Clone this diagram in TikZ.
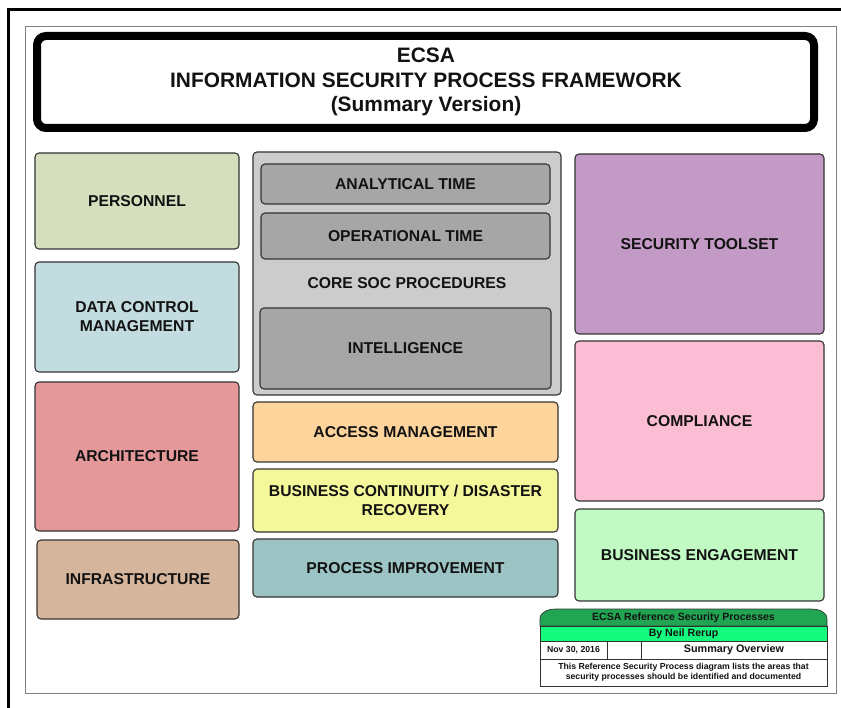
\documentclass[tikz,border=0pt]{standalone}
\usepackage{fontspec}
\setmainfont{Liberation Sans}
\usepackage{xcolor}
\usepackage{tikz}

\definecolor{boxline}{HTML}{333333}
\definecolor{personnelfill}{HTML}{D5DFBE}
\definecolor{datafill}{HTML}{C3DCE0}
\definecolor{archfill}{HTML}{E49899}
\definecolor{infrafill}{HTML}{D5B59C}
\definecolor{socfill}{HTML}{CCCCCC}
\definecolor{socinner}{HTML}{A6A6A6}
\definecolor{accessfill}{HTML}{FDD49B}
\definecolor{bcfill}{HTML}{F5F79B}
\definecolor{pifill}{HTML}{9CC4C4}
\definecolor{toolfill}{HTML}{C39AC5}
\definecolor{compfill}{HTML}{FBBDD3}
\definecolor{engfill}{HTML}{C1FAC3}
\definecolor{tabdark}{HTML}{22A552}
\definecolor{tabbright}{HTML}{14FA7D}

\begin{document}
\begin{tikzpicture}[x=1pt,y=1pt]
\tikzstyle{every node}+=[inner sep=0pt, text=black!93]
\tikzstyle{area}=[draw=boxline, line width=1.1pt, rounded corners=4pt, align=center, font=\fontsize{15.7}{19}\selectfont\bfseries]
\tikzstyle{cell}=[draw=boxline, line width=0.7pt, align=center, font=\fontsize{8.7}{10.3}\selectfont\bfseries]
\useasboundingbox (0,0) rectangle (841,-708);
% page frame
\draw [black, line width=3pt] (8,-708) -- (8,-10) -- (841,-10);
\draw [gray, line width=0.8pt] (25,-26) rectangle (836,-693);
% heading
\draw [black, line width=8pt, rounded corners=9pt] (37,-36) rectangle (814,-128);
\node (heading) at (426,-82) [align=center, font=\fontsize{20.9}{24.5}\selectfont\bfseries] {ECSA\\INFORMATION SECURITY PROCESS FRAMEWORK\\(Summary Version)};
% left column
\node [area, fill=personnelfill, minimum width=204, minimum height=96] (personnel) at (137,-201) {PERSONNEL};
\node [area, fill=datafill, minimum width=204, minimum height=110] (datactl) at (137,-317) {DATA CONTROL\\MANAGEMENT};
\node [area, fill=archfill, minimum width=204, minimum height=149] (arch) at (137,-456.5) {ARCHITECTURE};
\node [area, fill=infrafill, minimum width=202, minimum height=79] (infra) at (138,-579.5) {INFRASTRUCTURE};
% middle column
\node [area, fill=socfill, minimum width=308, minimum height=243] (coresoc) at (407,-273.5) {};
\node [area, fill=socinner, minimum width=289, minimum height=40] (analytical) at (405.5,-184) {ANALYTICAL TIME};
\node [area, fill=socinner, minimum width=289, minimum height=46] (operational) at (405.5,-236) {OPERATIONAL TIME};
\node [font=\fontsize{15.7}{19}\selectfont\bfseries] (coresoclabel) at (407,-283) {CORE SOC PROCEDURES};
\node [area, fill=socinner, minimum width=291, minimum height=81] (intel) at (405.5,-348.5) {INTELLIGENCE};
\node [area, fill=accessfill, minimum width=305, minimum height=60] (access) at (405.5,-432) {ACCESS MANAGEMENT};
\node [area, fill=bcfill, minimum width=305, minimum height=63] (continuity) at (405.5,-500.5) {BUSINESS CONTINUITY / DISASTER\\RECOVERY};
\node [area, fill=pifill, minimum width=305, minimum height=58] (improve) at (405.5,-568) {PROCESS IMPROVEMENT};
% right column
\node [area, fill=toolfill, minimum width=249, minimum height=180] (toolset) at (699.5,-244) {SECURITY TOOLSET};
\node [area, fill=compfill, minimum width=249, minimum height=160] (compliance) at (699.5,-421) {COMPLIANCE};
\node [area, fill=engfill, minimum width=249, minimum height=92] (engage) at (699.5,-555) {BUSINESS ENGAGEMENT};
% title block
\draw [boxline, line width=0.7pt, fill=tabdark] (540,-626) -- (540,-619) to[out=90,in=180] (556,-609) -- (811,-609) to[out=0,in=90] (827,-619) -- (827,-626) -- cycle;
\node [font=\fontsize{10.5}{12}\selectfont\bfseries] (tabtitle) at (683.5,-617.5) {ECSA Reference Security Processes};
\node [cell, fill=tabbright, minimum width=287, minimum height=15, font=\fontsize{10.6}{12}\selectfont\bfseries] (author) at (683.5,-633.5) {By Neil Rerup};
\node [cell, fill=white, minimum width=67, minimum height=18] (date) at (573.5,-650) {Nov 30, 2016};
\node [cell, fill=white, minimum width=34, minimum height=18] (blank) at (624,-650) {};
\node [cell, fill=white, minimum width=186, minimum height=18, font=\fontsize{10.8}{13}\selectfont\bfseries] (summary) at (734,-650) {Summary Overview};
\node [cell, fill=white, minimum width=287, minimum height=27] (desc) at (683.5,-672.5) {This Reference Security Process diagram lists the areas that\\security processes should be identified and documented};
\end{tikzpicture}
\end{document}
